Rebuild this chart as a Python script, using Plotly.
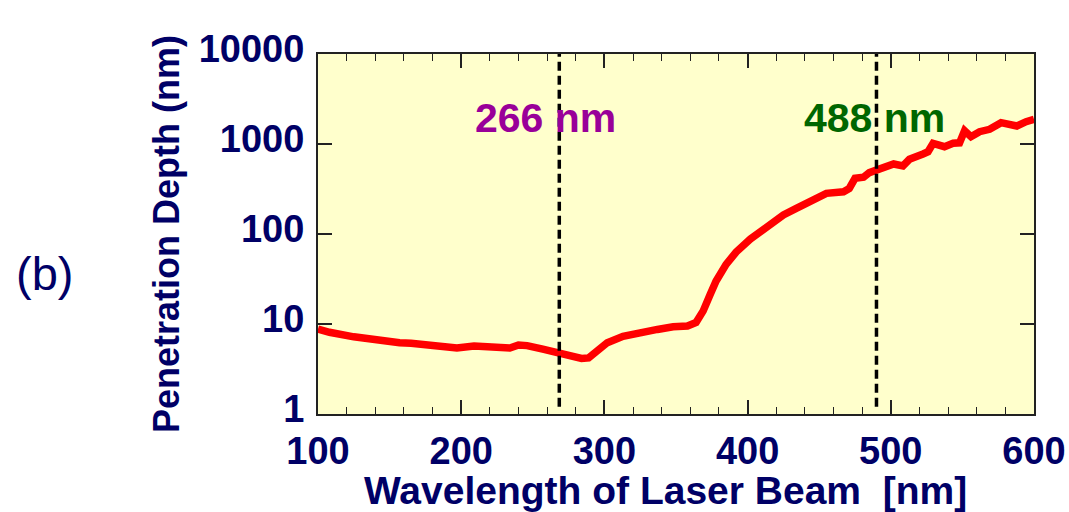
import math
import plotly.graph_objects as go

# ---- data ----
wavelength_nm = [100, 108, 125, 141, 157, 165, 188, 197, 209, 225, 234, 240, 246, 257,
                 268, 278, 284, 289, 293, 302, 313, 325, 337, 348, 358, 364, 369, 374,
                 378, 385, 392, 402, 413, 425, 434, 446, 455, 467, 471, 475, 481, 485,
                 492, 502, 508.5, 513, 522.5, 526, 529.5, 537.5, 543.5, 548, 551.5, 556,
                 562, 569, 577, 583, 588, 594.5, 600]
depth_nm = [8.8, 8.1, 7.2, 6.6, 6.2, 6.1, 5.6, 5.4, 5.7, 5.45, 5.4, 5.85, 5.75, 5.25,
            4.7, 4.27, 4.15, 4.2, 4.75, 6.2, 7.3, 8.1, 8.7, 9.3, 9.5, 10.4, 14, 21.5,
            30, 46, 63, 88, 120, 163, 193, 243, 283, 295, 321, 416, 427, 480,
            524, 600, 570, 676, 774, 820, 1018, 934, 1018, 1030, 1405, 1205,
            1371, 1456, 1726, 1668, 1585, 1770, 1880]

laser_line_x = [268.5, 490]          # drawn positions of dashed markers
laser_labels = ["266 nm", "488 nm"]
laser_label_x = [258.6, 488.6]
laser_label_colors = ["#990099", "#006600"]
label_y = 1970

x_ticks = [100, 200, 300, 400, 500, 600]
y_ticks = [1, 10, 100, 1000, 10000]
y_ticktext = ["1", "10", "100", "1000", "10000"]

x_title = "Wavelength of Laser Beam\u00a0 [nm]"
y_title = "Penetration Depth (nm)"
panel_label = "(b)"

NAVY = "#000066"
FONT = "Liberation Sans, Arial, sans-serif"

fig = go.Figure()

fig.add_trace(go.Scatter(
    x=wavelength_nm, y=depth_nm, mode="lines",
    line=dict(color="#FF0000", width=7.5), showlegend=False,
))

for lx in laser_line_x:
    fig.add_trace(go.Scatter(
        x=[lx, lx], y=[1.2, 10000], mode="lines",
        line=dict(color="black", width=3.5, dash="9px,5px"),
        showlegend=False,
    ))

for txt, tx, col in zip(laser_labels, laser_label_x, laser_label_colors):
    fig.add_annotation(
        x=tx, y=math.log10(label_y), text=txt, showarrow=False,
        font=dict(family=FONT, size=41, color=col, weight="bold"),
        xanchor="center", yanchor="middle",
    )

fig.add_annotation(
    xref="paper", yref="paper", x=-0.3817, y=0.39, text=panel_label, showarrow=False,
    font=dict(family=FONT, size=47, color=NAVY), xanchor="center", yanchor="middle",
)

# x-axis title placed as an annotation (slightly left of the plot centre, as in the reference)
fig.add_annotation(
    xref="paper", yref="paper", x=0.485, y=-0.213, text=x_title, showarrow=False,
    font=dict(family=FONT, size=39, color=NAVY, weight="bold"),
    xanchor="center", yanchor="middle",
)

fig.update_xaxes(
    range=[100, 600], tickvals=x_ticks, automargin=False,
    ticks="inside", ticklen=14, tickwidth=1.5, tickcolor="#222",
    minor=dict(dtick=20, ticks="inside", ticklen=7, tickwidth=1.2, tickcolor="#222"),
    showline=True, linecolor="#222", linewidth=2, mirror="ticks",
    showgrid=False, zeroline=False,
    tickfont=dict(family=FONT, size=38, color=NAVY, weight="bold"),
    ticklabelstandoff=2,
)
fig.update_yaxes(
    type="log", range=[0, 4], tickvals=y_ticks, ticktext=y_ticktext, automargin=False,
    ticks="inside", ticklen=14, tickwidth=1.5, tickcolor="#222",
    showline=True, linecolor="#222", linewidth=2, mirror="ticks",
    showgrid=False, zeroline=False,
    tickfont=dict(family=FONT, size=38, color=NAVY, weight="bold"),
    ticklabelstandoff=4, ticklabelshift=-5,
    title=dict(text=y_title, standoff=8,
               font=dict(family=FONT, size=36, color=NAVY, weight="bold")),
)

fig.update_layout(
    width=1069, height=512,
    margin=dict(l=317.5, r=35, t=54, b=98),
    plot_bgcolor="#FFFFCC", paper_bgcolor="white",
)

fig.write_html("out.html")
